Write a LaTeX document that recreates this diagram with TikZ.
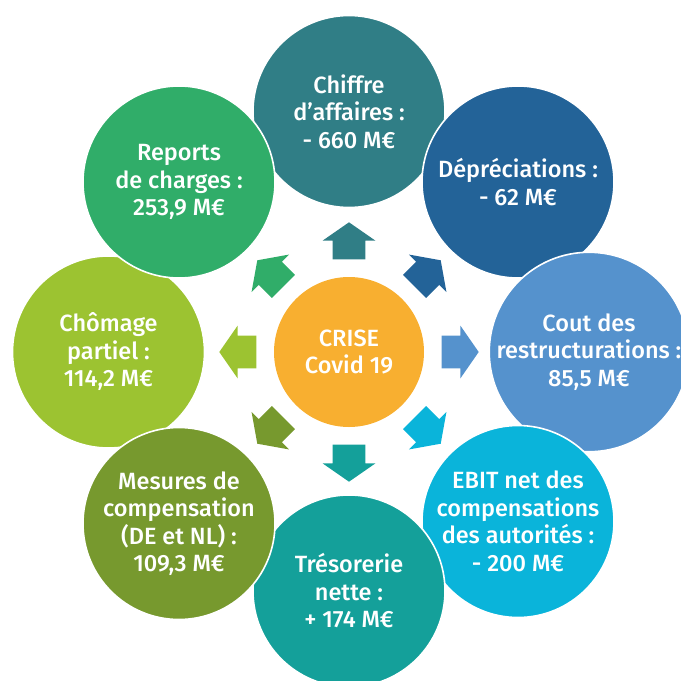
\documentclass[tikz,border=0pt]{standalone}
\usepackage{fontspec}
\setmainfont{Fira Sans}[UprightFont={* Medium}]
\usetikzlibrary{calc}

\definecolor{cChiffre}{HTML}{307E86}
\definecolor{cDeprec}{HTML}{236398}
\definecolor{cCout}{HTML}{5592CD}
\definecolor{cEbit}{HTML}{0AB4DA}
\definecolor{cTreso}{HTML}{14A09A}
\definecolor{cMesures}{HTML}{77992E}
\definecolor{cChomage}{HTML}{9CC331}
\definecolor{cReports}{HTML}{30AD69}
\definecolor{cCrise}{HTML}{F8AF30}

\tikzset{
  bubble/.style={circle, minimum size=192pt, inner sep=0pt, draw=white,
    line width=1.6pt, text=white, align=center,
    font=\fontsize{23.5}{27.5}\selectfont},
  core/.style={bubble, minimum size=150pt, draw=none},
}

% block arrow pointing from the core outwards along the given angle
\newcommand{\radialarrow}[2]{%
  \fill[#2, shift={(c)}, rotate=#1]
    (92.7,-16.3) -- (111.3,-16.3) -- (111.3,-26.5) -- (129.7,0)
    -- (111.3,26.5) -- (111.3,16.3) -- (92.7,16.3) -- cycle;}

\begin{document}
\begin{tikzpicture}[x=1pt, y=-1pt]
\useasboundingbox (0,0) rectangle (681,681);
\clip (0,0) rectangle (681,681);

\coordinate (c) at (349,352);

\node[bubble, fill=cChiffre] (chiffre) at (349,111.5)
  {Chiffre\\d’affaires :\\- 660 M€};
\node[bubble, fill=cDeprec] (deprec) at (518,182)
  {Dépréciations :\\- 62 M€};
\node[bubble, fill=cCout] (cout) at (589,352)
  {Cout des\\restructurations :\\85,5 M€};
\node[bubble, fill=cEbit] (ebit) at (518,521.5)
  {EBIT net des\\compensations\\des autorités :\\- 200 M€};
\node[bubble, fill=cTreso] (treso) at (349,591)
  {Trésorerie\\nette :\\+ 174 M€};
\node[bubble, fill=cChomage] (chomage) at (108.5,352)
  {Chômage\\partiel :\\114,2 M€};
\node[bubble, fill=cMesures] (mesures) at (179,523.5)
  {Mesures de\\compensation\\(DE et NL) :\\109,3 M€};
\node[bubble, fill=cReports] (reports) at (179,182)
  {Reports\\de charges :\\253,9 M€};

\node[core, fill=cCrise] (crise) at (c) {CRISE\\Covid 19};

\radialarrow{90}{cChiffre}
\radialarrow{45}{cDeprec}
\radialarrow{0}{cCout}
\radialarrow{-45}{cEbit}
\radialarrow{-90}{cTreso}
\radialarrow{-135}{cMesures}
\radialarrow{180}{cChomage}
\radialarrow{135}{cReports}
\end{tikzpicture}
\end{document}
